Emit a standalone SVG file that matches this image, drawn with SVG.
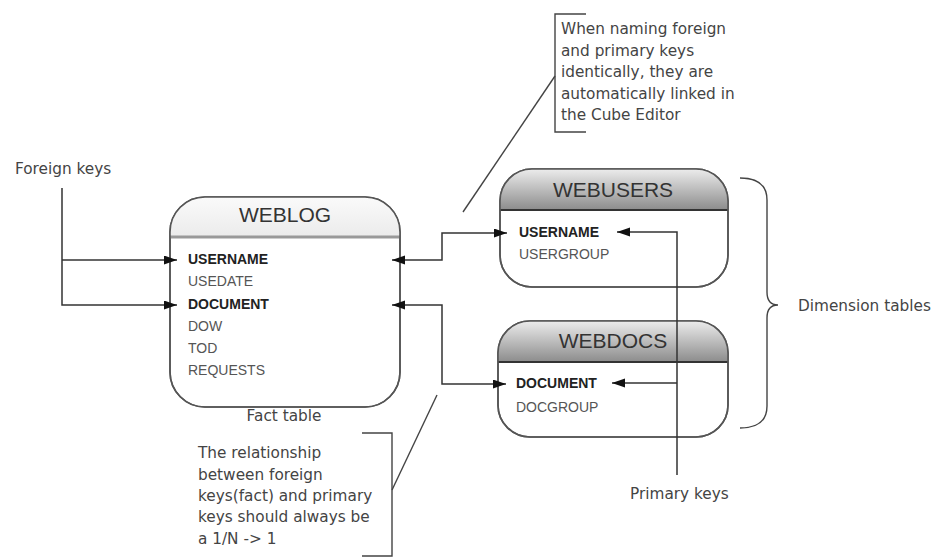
<svg xmlns="http://www.w3.org/2000/svg" width="939" height="558" viewBox="0 0 939 558">
<style>
.box{fill:#fff;stroke:#555;stroke-width:1.6}
.outline{fill:none;stroke:#555;stroke-width:1.6}
.title{font-family:"Liberation Sans",Arial,sans-serif;font-size:21px;fill:#333;text-anchor:middle}
.row{font-family:"Liberation Sans",Arial,sans-serif;font-size:14px;fill:#555}
.key{font-family:"Liberation Sans",Arial,sans-serif;font-size:14px;fill:#222;font-weight:bold}
.lbl{font-family:"DejaVu Sans","Liberation Sans",sans-serif;font-size:15.3px;fill:#444}
.conn{fill:none;stroke:#333;stroke-width:1.5}
.call{fill:none;stroke:#444;stroke-width:1.4}
</style>
<defs>
<marker id="ah" markerUnits="userSpaceOnUse" markerWidth="14" markerHeight="10" refX="13" refY="4.5" orient="auto-start-reverse">
<path d="M0,0 L13,4.5 L0,9 z" fill="#111"/>
</marker>
<linearGradient id="gLight" x1="0" y1="0" x2="0" y2="1">
<stop offset="0" stop-color="#fafafa"/>
<stop offset="1" stop-color="#ebebeb"/>
</linearGradient>
<linearGradient id="gDark" x1="0" y1="0" x2="0" y2="1">
<stop offset="0" stop-color="#ececec"/>
<stop offset="1" stop-color="#8c8c8c"/>
</linearGradient>
</defs>
<rect width="939" height="558" fill="#fff"/>

<g id="weblog">
<rect class="box" x="170" y="197" width="230" height="210" rx="35" ry="35"/>
<path d="M170 237 V232 A35 35 0 0 1 205 197 H365 A35 35 0 0 1 400 232 V237 Z" fill="url(#gLight)"/>
<line x1="170" y1="237" x2="400" y2="237" stroke="#999" stroke-width="3"/>
<rect class="outline" x="170" y="197" width="230" height="210" rx="35" ry="35"/>
<text class="title" x="285" y="222">WEBLOG</text>
<text class="key" x="188" y="264">USERNAME</text>
<text class="row" x="188" y="286">USEDATE</text>
<text class="key" x="188" y="309">DOCUMENT</text>
<text class="row" x="188" y="331">DOW</text>
<text class="row" x="188" y="353">TOD</text>
<text class="row" x="188" y="375">REQUESTS</text>
</g>
<text id="fact-label" class="lbl" x="284" y="421" text-anchor="middle">Fact table</text>

<g id="webusers">
<rect class="box" x="500" y="169" width="228" height="118" rx="32" ry="32"/>
<path d="M500 210 V201 A32 32 0 0 1 532 169 H696 A32 32 0 0 1 728 201 V210 Z" fill="url(#gDark)"/>
<line x1="500" y1="210" x2="728" y2="210" stroke="#333" stroke-width="2"/>
<rect class="outline" x="500" y="169" width="228" height="118" rx="32" ry="32"/>
<text class="title" x="613" y="197">WEBUSERS</text>
<text class="key" x="519" y="237">USERNAME</text>
<text class="row" x="519" y="259">USERGROUP</text>
</g>

<g id="webdocs">
<rect class="box" x="498" y="321" width="230" height="116" rx="32" ry="32"/>
<path d="M498 362 V353 A32 32 0 0 1 530 321 H696 A32 32 0 0 1 728 353 V362 Z" fill="url(#gDark)"/>
<line x1="498" y1="362" x2="728" y2="362" stroke="#333" stroke-width="2"/>
<rect class="outline" x="498" y="321" width="230" height="116" rx="32" ry="32"/>
<text class="title" x="613" y="348">WEBDOCS</text>
<text class="key" x="516" y="388">DOCUMENT</text>
<text class="row" x="516" y="412">DOCGROUP</text>
</g>

<g id="connectors">
<path class="conn" d="M62 188 V305 H177" marker-end="url(#ah)"/>
<path class="conn" d="M62 260 H177" marker-end="url(#ah)"/>
<path class="conn" d="M392 260 H442 V233 H507" marker-start="url(#ah)" marker-end="url(#ah)"/>
<path class="conn" d="M392 305 H442 V384 H506" marker-start="url(#ah)" marker-end="url(#ah)"/>
<path class="conn" d="M677 475 V232 H617" marker-end="url(#ah)"/>
<path class="conn" d="M677 383 H612" marker-end="url(#ah)"/>
</g>

<g id="foreign-keys">
<text class="lbl" x="15" y="174">Foreign keys</text>
</g>
<g id="primary-keys">
<text class="lbl" x="630" y="499">Primary keys</text>
</g>

<g id="dimension-tables">
<path class="call" d="M740 178 Q767 178 767 200 V292 Q767 305 778 305 Q767 305 767 318 V406 Q767 428 740 428"/>
<text class="lbl" x="798" y="311">Dimension tables</text>
</g>

<g id="note-naming">
<path class="call" d="M586 14 H555 V132 H586"/>
<line class="call" x1="555" y1="76" x2="463" y2="212"/>
<text class="lbl" x="561" y="34">When naming foreign</text>
<text class="lbl" x="561" y="55.5">and primary keys</text>
<text class="lbl" x="561" y="77">identically, they are</text>
<text class="lbl" x="561" y="98.5">automatically linked in</text>
<text class="lbl" x="561" y="120">the Cube Editor</text>
</g>

<g id="note-relationship">
<path class="call" d="M362 433 H392 V556 H362"/>
<line class="call" x1="392" y1="490" x2="437" y2="395"/>
<text class="lbl" x="198" y="458">The relationship</text>
<text class="lbl" x="198" y="479.5">between foreign</text>
<text class="lbl" x="198" y="501">keys(fact) and primary</text>
<text class="lbl" x="198" y="522">keys should always be</text>
<text class="lbl" x="198" y="543.5">a 1/N -&gt; 1</text>
</g>
</svg>
